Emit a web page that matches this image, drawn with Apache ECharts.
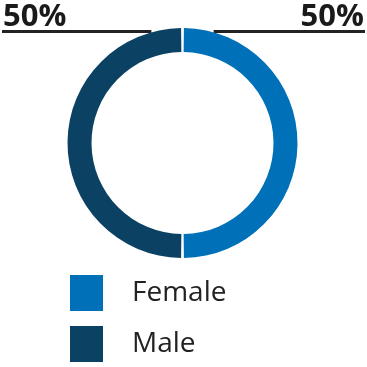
<!DOCTYPE html>
<html>
<head>
<meta charset="utf-8">
<script src="https://cdn.jsdelivr.net/npm/echarts@6/dist/echarts.min.js"></script>
<style>
  html, body { margin: 0; padding: 0; background: #fff; }
  #chart { width: 367px; height: 367px; }
</style>
</head>
<body>
<div id="chart"></div>
<script>
const categories = ['Female', 'Male'];
const values = [50, 50];
const labels = ['50%', '50%'];
const colors = ['#0070B8', '#0B4264'];

const chart = echarts.init(document.getElementById('chart'), null, { renderer: 'canvas' });

const cx = 182.5, cy = 143, rOuter = 115, rInner = 91;
const lineY = 31.5;
const dx = Math.sqrt(rOuter * rOuter - (cy - lineY) * (cy - lineY));

const legendTops = [275, 326];

chart.setOption({
  animation: false,
  backgroundColor: '#ffffff',
  legend: categories.map((c, i) => ({
    orient: 'vertical',
    left: 70,
    top: legendTops[i],
    padding: 0,
    itemWidth: 33,
    itemHeight: 36,
    icon: 'rect',
    selectedMode: false,
    data: [c],
    textStyle: {
      fontFamily: 'Open Sans',
      fontSize: 28,
      lineHeight: 28,
      color: '#222222',
      padding: [7, 0, 0, 24]
    }
  })),
  series: [{
    type: 'pie',
    center: [cx, cy],
    radius: [rInner, rOuter],
    startAngle: 90,
    clockwise: true,
    padAngle: 1.4,
    silent: true,
    data: categories.map((c, i) => ({
      name: c,
      value: values[i],
      itemStyle: { color: colors[i] }
    })),
    label: {
      show: true,
      position: 'outside',
      formatter: p => labels[p.dataIndex],
      fontFamily: 'Open Sans',
      fontWeight: 'bold',
      fontSize: 31,
      color: '#1a1a1a',
      overflow: 'none'
    },
    labelLine: {
      show: true,
      length: 10,
      length2: 10,
      lineStyle: { color: '#222222', width: 3 }
    },
    labelLayout: function (params) {
      if (params.dataIndex === 0) {
        return {
          x: 364, y: 17.5, align: 'right', verticalAlign: 'middle',
          labelLinePoints: [[365, lineY], [cx + dx + 3, lineY], [cx + dx + 3, lineY]]
        };
      }
      return {
        x: 3, y: 17.5, align: 'left', verticalAlign: 'middle',
        labelLinePoints: [[2, lineY], [cx - dx - 3, lineY], [cx - dx - 3, lineY]]
      };
    }
  }]
});
</script>
</body>
</html>
